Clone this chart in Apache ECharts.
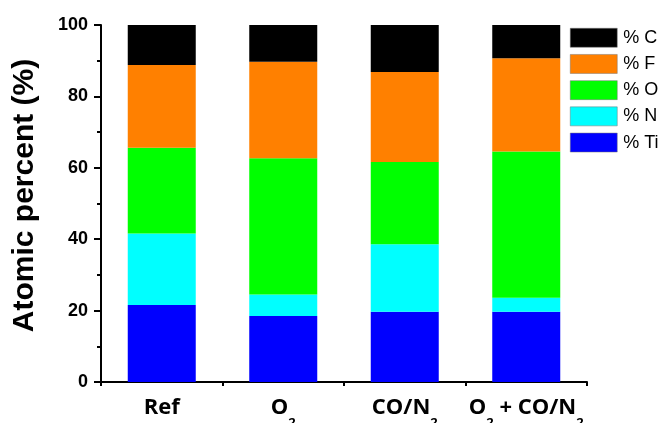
<!DOCTYPE html>
<html><head><meta charset="utf-8">
<script src="https://cdn.jsdelivr.net/npm/echarts@6/dist/echarts.min.js"></script>
<style>html,body{margin:0;padding:0;background:#fff}#c{width:667px;height:423px}</style>
</head><body><div id="c"></div>
<script>
const categories = ['Ref', 'O2', 'CO/N2', 'O2 + CO/N2'];
const tiValues = [21.6, 18.5, 19.7, 19.7];
const nValues  = [20.0, 6.0, 18.9, 3.9];
const oValues  = [24.0, 38.2, 23.0, 41.0];
const fValues  = [23.2, 27.0, 25.2, 26.1];
const cValues  = [11.2, 10.3, 13.2, 9.3];
const yTicks = [0, 20, 40, 60, 80, 100];
const seriesNames = ['% Ti', '% N', '% O', '% F', '% C'];
const seriesColors = ['#0000ff', '#00ffff', '#00ff00', '#ff8000', '#000000'];
const seriesValues = [tiValues, nValues, oValues, fValues, cValues];

const chart = echarts.init(document.getElementById('c'), null, {renderer: 'canvas'});
function fmtCat(v) {
  const parts = v.split(/(?<=[ON])2/);
  let out = '';
  parts.forEach((p, i) => {
    if (p.length) out += '{m|' + p + '}';
    if (i < parts.length - 1) out += '{s|2}';
  });
  return out;
}
const option = {
  animation: false,
  legend: {
    left: 570, top: 28, orient: 'vertical', padding: 0,
    itemWidth: 47, itemHeight: 19, itemGap: 6.7, icon: 'rect',
    data: seriesNames.slice().reverse(),
    textStyle: {fontFamily: 'Liberation Sans', fontSize: 18, color: '#000', padding: [0,0,0,1]},
    itemStyle: {borderColor: '#777', borderWidth: 0.5}
  },
  grid: {left: 101, right: 80, top: 25, bottom: 41, containLabel: false, outerBoundsMode: 'none'},
  xAxis: [{
    type: 'category', data: categories,
    axisLine: {lineStyle: {color: '#000', width: 2}},
    axisTick: {alignWithLabel: true, length: 7, lineStyle: {color: '#000', width: 2}},
    axisLabel: {
      margin: 4, color: '#000', interval: 0,
      formatter: fmtCat,
      rich: {
        m: {fontFamily: 'Open Sans', fontWeight: 'bold', fontSize: 22, lineHeight: 44, color: '#000'},
        s: {fontFamily: 'Open Sans', fontWeight: 'bold', fontSize: 13, lineHeight: 4, verticalAlign: 'bottom', color: '#000'}
      }
    }
  }, {
    type: 'category', data: categories, position: 'bottom',
    axisLine: {show: false},
    axisTick: {show: true, length: 4, lineStyle: {color: '#000', width: 2}},
    axisLabel: {show: false}, splitLine: {show: false}
  }],
  yAxis: {
    type: 'value', min: 0, max: 100, interval: 20,
    name: 'Atomic percent (%)', nameLocation: 'middle', nameGap: 61, nameRotate: 90,
    nameTextStyle: {fontFamily: 'Liberation Sans', fontWeight: 'bold', fontSize: 30, color: '#000', padding: [0, 0, 0, 16]},
    axisLine: {show: true, lineStyle: {color: '#000', width: 2}},
    axisTick: {show: true, length: 7, lineStyle: {color: '#000', width: 2}},
    minorTick: {show: true, splitNumber: 2, length: 4, lineStyle: {color: '#000', width: 2}},
    splitLine: {show: false},
    axisLabel: {margin: 13, color: '#000', fontFamily: 'Liberation Sans', fontWeight: 'bold', fontSize: 18,
      formatter: v => yTicks.includes(v) ? String(v) : ''}
  },
  series: seriesNames.map((n, i) => ({
    name: n, type: 'bar', stack: 'all', data: seriesValues[i],
    barWidth: 68, itemStyle: {color: seriesColors[i]}
  }))
};
chart.setOption(option);
</script></body></html>
